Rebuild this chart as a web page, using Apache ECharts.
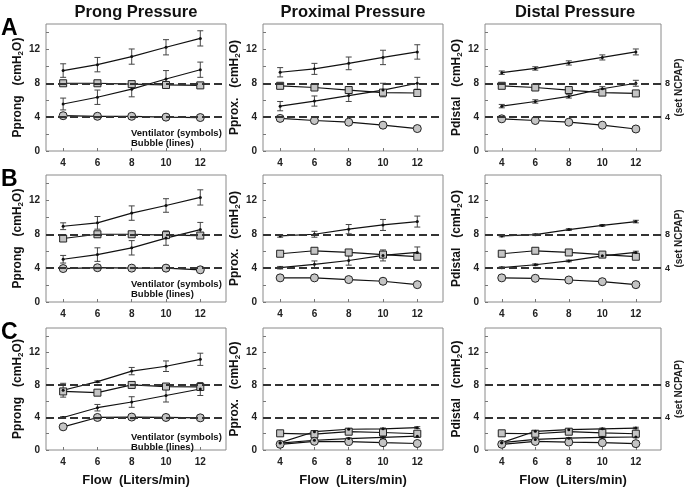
<!DOCTYPE html>
<html>
<head>
<meta charset="utf-8">
<script src="https://cdn.jsdelivr.net/npm/echarts@6.0.0/dist/echarts.min.js"></script>
<style>
	html, body { margin: 0; padding: 0; background: #fff; }
	#chart { width: 685px; height: 488px; }
</style>
</head>
<body>
<div id="chart"></div>
<script>
var flows = [4, 6, 8, 10, 12];
var yTicks = [0, 4, 8, 12];
var colTitles = ['Prong Pressure', 'Proximal Pressure', 'Distal Pressure'];
var yNames = ['Pprong', 'Pprox.', 'Pdistal'];
var rowLetters = ['A', 'B', 'C'];

// row A
var aProngVentHi = [8.0, 8.0, 7.9, 7.8, 7.75];
var aProngVentLo = [4.17, 4.1, 4.1, 4.0, 3.95];
var aProngBubHi = [9.5, 10.2, 11.15, 12.25, 13.3];
var aProngBubHiErr = [0.8, 0.85, 0.9, 0.9, 0.9];
var aProngBubLo = [5.55, 6.35, 7.3, 8.5, 9.6];
var aProngBubLoErr = [0.7, 0.85, 0.9, 1.0, 0.9];

var aProxVentHi = [7.7, 7.5, 7.2, 6.9, 6.85];
var aProxVentLo = [3.85, 3.6, 3.4, 3.05, 2.65];
var aProxBubHi = [9.3, 9.7, 10.35, 11.05, 11.7];
var aProxBubHiErr = [0.55, 0.65, 0.75, 0.85, 0.85];
var aProxBubLo = [5.3, 5.9, 6.55, 7.2, 8.0];
var aProxBubLoErr = [0.55, 0.6, 0.7, 0.8, 0.7];

var aDistVentHi = [7.7, 7.5, 7.2, 6.9, 6.8];
var aDistVentLo = [3.8, 3.6, 3.4, 3.05, 2.6];
var aDistBubHi = [9.25, 9.75, 10.4, 11.05, 11.7];
var aDistBubHiErr = [0.2, 0.2, 0.25, 0.3, 0.35];
var aDistBubLo = [5.3, 5.85, 6.45, 7.35, 8.0];
var aDistBubLoErr = [0.2, 0.2, 0.2, 0.25, 0.35];

// row B
var bProngVentHi = [7.5, 8.0, 8.0, 7.9, 7.85];
var bProngVentLo = [3.95, 4.05, 4.0, 4.0, 3.8];
var bProngBubHi = [8.95, 9.35, 10.5, 11.4, 12.35];
var bProngBubHiErr = [0.4, 0.75, 0.85, 0.8, 0.9];
var bProngBubLo = [5.05, 5.6, 6.4, 7.55, 8.55];
var bProngBubLoErr = [0.45, 0.8, 0.85, 0.85, 0.85];

var bProxVentHi = [5.7, 6.05, 5.85, 5.6, 5.35];
var bProxVentLo = [2.85, 2.85, 2.65, 2.45, 2.05];
var bProxBubHi = [7.8, 8.0, 8.6, 9.1, 9.5];
var bProxBubHiErr = [0.15, 0.35, 0.55, 0.65, 0.65];
var bProxBubLo = [4.05, 4.45, 4.9, 5.5, 5.85];
var bProxBubLoErr = [0.15, 0.4, 0.55, 0.65, 0.65];

var bDistVentHi = [5.7, 6.05, 5.85, 5.6, 5.35];
var bDistVentLo = [2.85, 2.8, 2.6, 2.4, 2.05];
var bDistBubHi = [7.8, 7.95, 8.55, 9.05, 9.5];
var bDistBubHiErr = [0.1, 0.1, 0.1, 0.1, 0.15];
var bDistBubLo = [4.05, 4.4, 4.85, 5.45, 5.85];
var bDistBubLoErr = [0.1, 0.1, 0.1, 0.15, 0.15];

// row C
var cProngVentHi = [7.2, 7.05, 8.0, 7.8, 7.75];
var cProngVentLo = [2.85, 4.0, 4.05, 4.0, 3.95];
var cProngBubHi = [7.35, 8.4, 9.7, 10.3, 11.15];
var cProngBubHiErr = [0.85, 0.1, 0.45, 0.65, 0.75];
var cProngBubLo = [4.0, 5.2, 5.9, 6.7, 7.5];
var cProngBubLoErr = [0.1, 0.4, 0.65, 0.8, 0.8];

var cProxVentHi = [2.05, 1.95, 2.25, 2.15, 2.0];
var cProxVentLo = [0.7, 1.07, 1.03, 0.9, 0.8];
var cProxBubHi = [0.9, 2.25, 2.55, 2.6, 2.75];
var cProxBubHiErr = [0.05, 0.1, 0.1, 0.1, 0.12];
var cProxBubLo = [0.85, 1.2, 1.4, 1.55, 1.7];
var cProxBubLoErr = [0.05, 0.1, 0.1, 0.1, 0.15];

var cDistVentHi = [2.05, 2.0, 2.25, 2.1, 2.0];
var cDistVentLo = [0.7, 1.05, 0.97, 0.9, 0.78];
var cDistBubHi = [0.9, 2.3, 2.5, 2.6, 2.7];
var cDistBubHiErr = [0.05, 0.08, 0.08, 0.1, 0.1];
var cDistBubLo = [0.9, 1.3, 1.45, 1.55, 1.6];
var cDistBubLoErr = [0.05, 0.08, 0.08, 0.1, 0.1];

var panels = [
	[aProngVentHi, aProngVentLo, aProngBubHi, aProngBubHiErr, aProngBubLo, aProngBubLoErr],
	[aProxVentHi, aProxVentLo, aProxBubHi, aProxBubHiErr, aProxBubLo, aProxBubLoErr],
	[aDistVentHi, aDistVentLo, aDistBubHi, aDistBubHiErr, aDistBubLo, aDistBubLoErr],
	[bProngVentHi, bProngVentLo, bProngBubHi, bProngBubHiErr, bProngBubLo, bProngBubLoErr],
	[bProxVentHi, bProxVentLo, bProxBubHi, bProxBubHiErr, bProxBubLo, bProxBubLoErr],
	[bDistVentHi, bDistVentLo, bDistBubHi, bDistBubHiErr, bDistBubLo, bDistBubLoErr],
	[cProngVentHi, cProngVentLo, cProngBubHi, cProngBubHiErr, cProngBubLo, cProngBubLoErr],
	[cProxVentHi, cProxVentLo, cProxBubHi, cProxBubHiErr, cProxBubLo, cProxBubLoErr],
	[cDistVentHi, cDistVentLo, cDistBubHi, cDistBubHiErr, cDistBubLo, cDistBubLoErr]
];

var colLeft = [46, 263, 485];
var rowTop = [24, 175, 328];
var plotW = 180, plotH = 127;
var fontFam = '"Liberation Sans", Arial, sans-serif';

function pairs(vals) {
	return flows.map(function(f, k) { return [f, vals[k]]; });
}

function errData(vals, errs) {
	return flows.map(function(f, k) { return [f, vals[k] - errs[k], vals[k] + errs[k]]; });
}

function renderErr(params, api) {
	var x = api.value(0);
	var p1 = api.coord([x, api.value(1)]);
	var p2 = api.coord([x, api.value(2)]);
	var w = 3;
	var st = { stroke: '#444', lineWidth: 1 };
	return {
		type: 'group',
		children: [
			{ type: 'line', shape: { x1: p1[0], y1: p1[1], x2: p2[0], y2: p2[1] }, style: st },
			{ type: 'line', shape: { x1: p1[0] - w, y1: p1[1], x2: p1[0] + w, y2: p1[1] }, style: st },
			{ type: 'line', shape: { x1: p2[0] - w, y1: p2[1], x2: p2[0] + w, y2: p2[1] }, style: st }
		]
	};
}

var grids = [], xAxes = [], yAxes = [], series = [], graphics = [];

for (var r = 0; r < 3; r++) {
	for (var c = 0; c < 3; c++) {
		var i = r * 3 + c;
		var d = panels[i];
		grids.push({
			left: colLeft[c], top: rowTop[r], width: plotW, height: plotH,
			show: true, borderColor: '#8a8a8a', borderWidth: 1
		});
		xAxes.push({
			gridIndex: i, type: 'value', min: 3, max: 13.5,
			axisLine: { show: false },
			splitLine: { show: false },
			axisTick: { inside: true, length: 3, customValues: flows, lineStyle: { color: '#777' } },
			axisLabel: { customValues: flows, fontSize: 10, fontWeight: 'bold', color: '#222', margin: 7, fontFamily: fontFam },
			name: r === 2 ? 'Flow  (Liters/min)' : '',
			nameLocation: 'middle', nameGap: 24,
			nameTextStyle: { fontSize: 13, fontWeight: 'bold', color: '#111', fontFamily: fontFam }
		});
		var yi = yAxes.length;
		yAxes.push({
			gridIndex: i, type: 'value', min: 0, max: 15,
			axisLine: { show: false },
			splitLine: { show: false },
			axisTick: { inside: true, length: 3, customValues: [0, 2, 4, 6, 8, 10, 12, 14], lineStyle: { color: '#777' } },
			axisLabel: { customValues: yTicks, fontSize: 10, fontWeight: 'bold', color: '#222', margin: 6, fontFamily: fontFam },
			name: '{n|' + yNames[c] + '   (cmH}{s|2}{n|O)}',
			nameLocation: 'middle', nameGap: 17, nameRotate: 90,
			nameTextStyle: {
				rich: {
					n: { fontSize: 12, fontWeight: 'bold', color: '#111', lineHeight: 15, fontFamily: fontFam },
					s: { fontSize: 8, fontWeight: 'bold', color: '#111', lineHeight: 8, verticalAlign: 'bottom', padding: [6, 0, 0, 0], fontFamily: fontFam }
				}
			}
		});
		if (c === 2) {
			yAxes.push({
				gridIndex: i, type: 'value', min: 0, max: 15, position: 'right',
				axisLine: { show: false },
				axisTick: { show: false },
				splitLine: { show: false },
				axisLabel: { customValues: [4, 8], fontSize: 9, fontWeight: 'bold', color: '#222', margin: 4, fontFamily: fontFam },
				name: '(set NCPAP)',
				nameLocation: 'middle', nameGap: 13, nameRotate: 90,
				nameTextStyle: { fontSize: 10, fontWeight: 'bold', color: '#222', fontFamily: fontFam }
			});
		}

		var lineSt = { color: '#111', width: 1.2 };
		series.push({
			type: 'line', xAxisIndex: i, yAxisIndex: yi, data: pairs(d[0]),
			symbol: 'rect', symbolSize: 7,
			itemStyle: { color: '#c4c4c4', borderColor: '#222', borderWidth: 1 },
			lineStyle: lineSt,
			markLine: {
				silent: true, symbol: 'none', label: { show: false },
				lineStyle: { color: '#333', type: [8, 4], width: 1.8 },
				data: [{ yAxis: 8 }, { yAxis: 4 }]
			}
		});
		series.push({
			type: 'line', xAxisIndex: i, yAxisIndex: yi, data: pairs(d[1]),
			symbol: 'circle', symbolSize: 8,
			itemStyle: { color: '#c4c4c4', borderColor: '#222', borderWidth: 1 },
			lineStyle: lineSt
		});
		series.push({
			type: 'line', xAxisIndex: i, yAxisIndex: yi, data: pairs(d[2]),
			symbol: 'circle', symbolSize: 3,
			itemStyle: { color: '#111' },
			lineStyle: lineSt
		});
		series.push({
			type: 'line', xAxisIndex: i, yAxisIndex: yi, data: pairs(d[4]),
			symbol: 'circle', symbolSize: 3,
			itemStyle: { color: '#111' },
			lineStyle: lineSt
		});
		series.push({
			type: 'custom', xAxisIndex: i, yAxisIndex: yi,
			data: errData(d[2], d[3]).concat(errData(d[4], d[5])),
			encode: { x: 0, y: [1, 2] },
			renderItem: renderErr
		});
	}
}

for (var k = 0; k < 3; k++) {
	graphics.push({
		type: 'text', x: colLeft[k] + plotW / 2, y: 12,
		style: { text: colTitles[k], font: 'bold 16.5px ' + fontFam, fill: '#111', textAlign: 'center', textVerticalAlign: 'middle' }
	});
	graphics.push({
		type: 'text', x: 1, y: rowTop[k] + 5,
		style: { text: rowLetters[k], font: 'bold 23px ' + fontFam, fill: '#000', textAlign: 'left', textVerticalAlign: 'middle' }
	});
	graphics.push({
		type: 'text', x: 131, y: rowTop[k] + 109,
		style: { text: 'Ventilator (symbols)', font: 'bold 9.5px ' + fontFam, fill: '#111', textAlign: 'left', textVerticalAlign: 'middle' }
	});
	graphics.push({
		type: 'text', x: 131, y: rowTop[k] + 119,
		style: { text: 'Bubble (lines)', font: 'bold 9.5px ' + fontFam, fill: '#111', textAlign: 'left', textVerticalAlign: 'middle' }
	});
}

var chart = echarts.init(document.getElementById('chart'), null, { renderer: 'canvas' });
chart.setOption({
	animation: false,
	backgroundColor: '#fff',
	textStyle: { fontFamily: fontFam },
	grid: grids,
	xAxis: xAxes,
	yAxis: yAxes,
	series: series,
	graphic: graphics
});
</script>
</body>
</html>
